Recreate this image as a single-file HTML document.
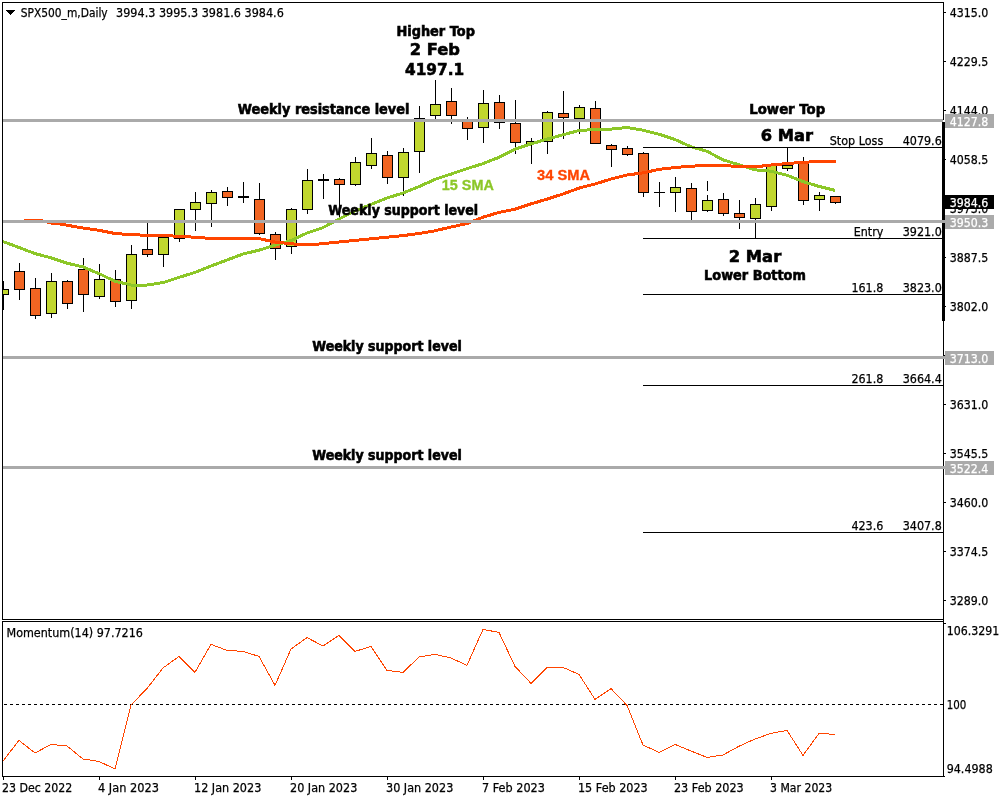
<!DOCTYPE html>
<html lang="en"><head><meta charset="utf-8"><title>SPX500_m Daily chart</title>
<style>html,body{margin:0;padding:0;background:#fff;overflow:hidden}svg{display:block}.t{font-family:"DejaVu Sans","Liberation Sans",sans-serif;font-size:12px;fill:#000;stroke:#000;stroke-width:.25px}.k{font-family:"DejaVu Sans","Liberation Sans",sans-serif;font-weight:bold;fill:#000;stroke:#000;stroke-width:.6px}.s{font-family:"Liberation Sans",sans-serif;font-weight:bold;font-size:13.8px;stroke-width:.3px}</style></head><body>
<svg width="1000" height="800" viewBox="0 0 1000 800">
<rect width="1000" height="800" fill="#fff"/>
<defs><clipPath id="cm"><rect x="3" y="3" width="940" height="616"/></clipPath></defs>
<g shape-rendering="crispEdges" clip-path="url(#cm)">
<rect x="3" y="281" width="1" height="29" fill="#000"/>
<rect x="-2" y="289" width="11" height="6" fill="#000"/>
<rect x="-1" y="290" width="9" height="4" fill="#C1D72E"/>
<rect x="19" y="263" width="1" height="37" fill="#000"/>
<rect x="14" y="271" width="11" height="19" fill="#000"/>
<rect x="15" y="272" width="9" height="17" fill="#F16522"/>
<rect x="35" y="278" width="1" height="41" fill="#000"/>
<rect x="30" y="288" width="11" height="28" fill="#000"/>
<rect x="31" y="289" width="9" height="26" fill="#F16522"/>
<rect x="51" y="273" width="1" height="45" fill="#000"/>
<rect x="46" y="281" width="11" height="33" fill="#000"/>
<rect x="47" y="282" width="9" height="31" fill="#C1D72E"/>
<rect x="67" y="280" width="1" height="29" fill="#000"/>
<rect x="62" y="281" width="11" height="23" fill="#000"/>
<rect x="63" y="282" width="9" height="21" fill="#F16522"/>
<rect x="83" y="258" width="1" height="54" fill="#000"/>
<rect x="78" y="269" width="11" height="26" fill="#000"/>
<rect x="79" y="270" width="9" height="24" fill="#F16522"/>
<rect x="99" y="264" width="1" height="35" fill="#000"/>
<rect x="94" y="279" width="11" height="18" fill="#000"/>
<rect x="95" y="280" width="9" height="16" fill="#C1D72E"/>
<rect x="115" y="270" width="1" height="37" fill="#000"/>
<rect x="110" y="279" width="11" height="23" fill="#000"/>
<rect x="111" y="280" width="9" height="21" fill="#F16522"/>
<rect x="131" y="245" width="1" height="64" fill="#000"/>
<rect x="126" y="254" width="11" height="47" fill="#000"/>
<rect x="127" y="255" width="9" height="45" fill="#C1D72E"/>
<rect x="147" y="223" width="1" height="34" fill="#000"/>
<rect x="142" y="249" width="11" height="6" fill="#000"/>
<rect x="143" y="250" width="9" height="4" fill="#F16522"/>
<rect x="163" y="237" width="1" height="30" fill="#000"/>
<rect x="158" y="237" width="11" height="18" fill="#000"/>
<rect x="159" y="238" width="9" height="16" fill="#C1D72E"/>
<rect x="179" y="209" width="1" height="33" fill="#000"/>
<rect x="174" y="209" width="11" height="30" fill="#000"/>
<rect x="175" y="210" width="9" height="28" fill="#C1D72E"/>
<rect x="195" y="192" width="1" height="39" fill="#000"/>
<rect x="190" y="202" width="11" height="8" fill="#000"/>
<rect x="191" y="203" width="9" height="6" fill="#C1D72E"/>
<rect x="211" y="190" width="1" height="37" fill="#000"/>
<rect x="206" y="192" width="11" height="12" fill="#000"/>
<rect x="207" y="193" width="9" height="10" fill="#C1D72E"/>
<rect x="227" y="187" width="1" height="19" fill="#000"/>
<rect x="222" y="191" width="11" height="7" fill="#000"/>
<rect x="223" y="192" width="9" height="5" fill="#F16522"/>
<rect x="243" y="182" width="1" height="21" fill="#000"/>
<rect x="238" y="196" width="11" height="2" fill="#000"/>
<rect x="259" y="183" width="1" height="52" fill="#000"/>
<rect x="254" y="199" width="11" height="35" fill="#000"/>
<rect x="255" y="200" width="9" height="33" fill="#F16522"/>
<rect x="275" y="232" width="1" height="28" fill="#000"/>
<rect x="270" y="234" width="11" height="15" fill="#000"/>
<rect x="271" y="235" width="9" height="13" fill="#F16522"/>
<rect x="291" y="208" width="1" height="46" fill="#000"/>
<rect x="286" y="209" width="11" height="38" fill="#000"/>
<rect x="287" y="210" width="9" height="36" fill="#C1D72E"/>
<rect x="307" y="169" width="1" height="45" fill="#000"/>
<rect x="302" y="180" width="11" height="30" fill="#000"/>
<rect x="303" y="181" width="9" height="28" fill="#C1D72E"/>
<rect x="323" y="174" width="1" height="25" fill="#000"/>
<rect x="318" y="179" width="11" height="2" fill="#000"/>
<rect x="339" y="178" width="1" height="41" fill="#000"/>
<rect x="334" y="179" width="11" height="6" fill="#000"/>
<rect x="335" y="180" width="9" height="4" fill="#F16522"/>
<rect x="355" y="157" width="1" height="29" fill="#000"/>
<rect x="350" y="162" width="11" height="23" fill="#000"/>
<rect x="351" y="163" width="9" height="21" fill="#C1D72E"/>
<rect x="371" y="138" width="1" height="31" fill="#000"/>
<rect x="366" y="153" width="11" height="13" fill="#000"/>
<rect x="367" y="154" width="9" height="11" fill="#C1D72E"/>
<rect x="387" y="151" width="1" height="33" fill="#000"/>
<rect x="382" y="155" width="11" height="23" fill="#000"/>
<rect x="383" y="156" width="9" height="21" fill="#F16522"/>
<rect x="403" y="148" width="1" height="48" fill="#000"/>
<rect x="398" y="152" width="11" height="26" fill="#000"/>
<rect x="399" y="153" width="9" height="24" fill="#C1D72E"/>
<rect x="419" y="106" width="1" height="67" fill="#000"/>
<rect x="414" y="118" width="11" height="34" fill="#000"/>
<rect x="415" y="119" width="9" height="32" fill="#C1D72E"/>
<rect x="435" y="80" width="1" height="39" fill="#000"/>
<rect x="430" y="104" width="11" height="12" fill="#000"/>
<rect x="431" y="105" width="9" height="10" fill="#C1D72E"/>
<rect x="451" y="88" width="1" height="36" fill="#000"/>
<rect x="446" y="101" width="11" height="15" fill="#000"/>
<rect x="447" y="102" width="9" height="13" fill="#F16522"/>
<rect x="467" y="117" width="1" height="23" fill="#000"/>
<rect x="462" y="120" width="11" height="9" fill="#000"/>
<rect x="463" y="121" width="9" height="7" fill="#F16522"/>
<rect x="483" y="90" width="1" height="53" fill="#000"/>
<rect x="478" y="103" width="11" height="25" fill="#000"/>
<rect x="479" y="104" width="9" height="23" fill="#C1D72E"/>
<rect x="499" y="95" width="1" height="34" fill="#000"/>
<rect x="494" y="102" width="11" height="21" fill="#000"/>
<rect x="495" y="103" width="9" height="19" fill="#F16522"/>
<rect x="515" y="100" width="1" height="54" fill="#000"/>
<rect x="510" y="123" width="11" height="20" fill="#000"/>
<rect x="511" y="124" width="9" height="18" fill="#F16522"/>
<rect x="531" y="138" width="1" height="26" fill="#000"/>
<rect x="526" y="141" width="11" height="3" fill="#000"/>
<rect x="527" y="142" width="9" height="1" fill="#C1D72E"/>
<rect x="547" y="111" width="1" height="43" fill="#000"/>
<rect x="542" y="112" width="11" height="30" fill="#000"/>
<rect x="543" y="113" width="9" height="28" fill="#C1D72E"/>
<rect x="563" y="91" width="1" height="48" fill="#000"/>
<rect x="558" y="113" width="11" height="5" fill="#000"/>
<rect x="559" y="114" width="9" height="3" fill="#F16522"/>
<rect x="579" y="105" width="1" height="29" fill="#000"/>
<rect x="574" y="107" width="11" height="12" fill="#000"/>
<rect x="575" y="108" width="9" height="10" fill="#C1D72E"/>
<rect x="595" y="101" width="1" height="43" fill="#000"/>
<rect x="590" y="108" width="11" height="36" fill="#000"/>
<rect x="591" y="109" width="9" height="34" fill="#F16522"/>
<rect x="611" y="144" width="1" height="23" fill="#000"/>
<rect x="606" y="145" width="11" height="5" fill="#000"/>
<rect x="607" y="146" width="9" height="3" fill="#F16522"/>
<rect x="627" y="146" width="1" height="10" fill="#000"/>
<rect x="622" y="148" width="11" height="7" fill="#000"/>
<rect x="623" y="149" width="9" height="5" fill="#F16522"/>
<rect x="643" y="152" width="1" height="45" fill="#000"/>
<rect x="638" y="153" width="11" height="40" fill="#000"/>
<rect x="639" y="154" width="9" height="38" fill="#F16522"/>
<rect x="659" y="182" width="1" height="25" fill="#000"/>
<rect x="654" y="192" width="11" height="1" fill="#000"/>
<rect x="675" y="177" width="1" height="35" fill="#000"/>
<rect x="670" y="187" width="11" height="6" fill="#000"/>
<rect x="671" y="188" width="9" height="4" fill="#C1D72E"/>
<rect x="691" y="183" width="1" height="37" fill="#000"/>
<rect x="686" y="188" width="11" height="24" fill="#000"/>
<rect x="687" y="189" width="9" height="22" fill="#F16522"/>
<rect x="707" y="195" width="1" height="17" fill="#000"/>
<rect x="707" y="181" width="1" height="10" fill="#000"/>
<rect x="702" y="200" width="11" height="11" fill="#000"/>
<rect x="703" y="201" width="9" height="9" fill="#C1D72E"/>
<rect x="723" y="193" width="1" height="23" fill="#000"/>
<rect x="718" y="199" width="11" height="15" fill="#000"/>
<rect x="719" y="200" width="9" height="13" fill="#F16522"/>
<rect x="739" y="200" width="1" height="29" fill="#000"/>
<rect x="734" y="213" width="11" height="5" fill="#000"/>
<rect x="735" y="214" width="9" height="3" fill="#F16522"/>
<rect x="755" y="198" width="1" height="40" fill="#000"/>
<rect x="750" y="204" width="11" height="15" fill="#000"/>
<rect x="751" y="205" width="9" height="13" fill="#C1D72E"/>
<rect x="771" y="165" width="1" height="46" fill="#000"/>
<rect x="766" y="165" width="11" height="42" fill="#000"/>
<rect x="767" y="166" width="9" height="40" fill="#C1D72E"/>
<rect x="787" y="148" width="1" height="23" fill="#000"/>
<rect x="782" y="165" width="11" height="4" fill="#000"/>
<rect x="783" y="166" width="9" height="2" fill="#C1D72E"/>
<rect x="803" y="157" width="1" height="48" fill="#000"/>
<rect x="798" y="163" width="11" height="38" fill="#000"/>
<rect x="799" y="164" width="9" height="36" fill="#F16522"/>
<rect x="819" y="192" width="1" height="19" fill="#000"/>
<rect x="814" y="195" width="11" height="5" fill="#000"/>
<rect x="815" y="196" width="9" height="3" fill="#C1D72E"/>
<rect x="835" y="196" width="1" height="8" fill="#000"/>
<rect x="830" y="196" width="11" height="7" fill="#000"/>
<rect x="831" y="197" width="9" height="5" fill="#F16522"/>
</g>
<g fill="none" stroke-width="3" stroke-linejoin="round" shape-rendering="crispEdges" clip-path="url(#cm)">
<polyline points="-13,236 3,241.6 19,247.5 35,253.6 51,257.8 67,263.2 83,266.9 99,273.6 115,281.3 131,285 147,285 163,282.6 179,277.4 195,272.4 211,266 227,260 243,254 259,250.2 275,245.2 291,240.6 307,233 323,227.6 339,219 355,211 371,204.4 387,198 403,193 419,186.6 435,179.4 451,174.1 467,168.6 483,163.7 499,157.3 515,149.2 531,143.9 547,139.1 563,134.8 579,130.5 595,129.5 611,129.1 627,127.5 643,130.2 659,134.2 675,139.5 691,146.8 707,151.3 723,159.8 739,164.8 755,169.8 771,171.2 787,175.2 803,181.6 819,186.4 835,190.4" stroke="#8CC728"/>
<polyline points="-13,221.5 3,221.5 22,221.5 27,220.5 40,220.5 46,221.7 51,223 59,223.7 67,225.2 83,228 99,230.3 115,233.5 131,234.6 147,235.3 163,235.7 179,236.2 195,237.3 211,238.4 227,238.6 243,238.5 259,238.6 275,242 291,243.8 307,244.9 316,244.3 323,243.6 339,242 355,240.4 371,238.8 387,237.2 403,235.6 419,233.5 435,230.8 451,227 467,223.6 483,217.2 499,212.4 515,209.2 531,203.9 547,199.1 563,194 579,188.1 595,184 611,179 627,175 643,172.9 659,169.4 675,167.5 691,166.2 707,165.4 723,165.6 739,166.4 755,166.9 771,165.0 787,163.5 803,162.4 819,161.4 836,161.5" stroke="#FF4500"/>
</g>
<g shape-rendering="crispEdges">
<rect x="643" y="147" width="300" height="1" fill="#000"/>
<rect x="643" y="238" width="300" height="1" fill="#000"/>
<rect x="643" y="294" width="300" height="1" fill="#000"/>
<rect x="643" y="385" width="300" height="1" fill="#000"/>
<rect x="643" y="532" width="300" height="1" fill="#000"/>
<rect x="2" y="2" width="942" height="1" fill="#000"/>
<rect x="2" y="2" width="1" height="618" fill="#000"/>
<rect x="2" y="619" width="942" height="1" fill="#000"/>
<rect x="943" y="2" width="1" height="775" fill="#000"/>
<rect x="2" y="621" width="942" height="1" fill="#000"/>
<rect x="2" y="621" width="1" height="156" fill="#000"/>
<rect x="2" y="776" width="942" height="1" fill="#000"/>
<rect x="944" y="12" width="2" height="1" fill="#000"/>
<rect x="944" y="61" width="2" height="1" fill="#000"/>
<rect x="944" y="110" width="2" height="1" fill="#000"/>
<rect x="944" y="159" width="2" height="1" fill="#000"/>
<rect x="944" y="208" width="2" height="1" fill="#000"/>
<rect x="944" y="257" width="2" height="1" fill="#000"/>
<rect x="944" y="306" width="2" height="1" fill="#000"/>
<rect x="944" y="355" width="2" height="1" fill="#000"/>
<rect x="944" y="404" width="2" height="1" fill="#000"/>
<rect x="944" y="453" width="2" height="1" fill="#000"/>
<rect x="944" y="502" width="2" height="1" fill="#000"/>
<rect x="944" y="551" width="2" height="1" fill="#000"/>
<rect x="944" y="600" width="2" height="1" fill="#000"/>
<rect x="944" y="623" width="2" height="1" fill="#000"/>
<rect x="944" y="776" width="1" height="1" fill="#000"/>
<rect x="3" y="777" width="1" height="3" fill="#000"/>
<rect x="99" y="777" width="1" height="3" fill="#000"/>
<rect x="195" y="777" width="1" height="3" fill="#000"/>
<rect x="291" y="777" width="1" height="3" fill="#000"/>
<rect x="387" y="777" width="1" height="3" fill="#000"/>
<rect x="483" y="777" width="1" height="3" fill="#000"/>
<rect x="579" y="777" width="1" height="3" fill="#000"/>
<rect x="675" y="777" width="1" height="3" fill="#000"/>
<rect x="771" y="777" width="1" height="3" fill="#000"/>
<path d="M4 704.5H943" stroke="#000" stroke-width="1" stroke-dasharray="3 3" fill="none"/>
<rect x="942" y="122" width="3" height="199" fill="#000"/>
<rect x="3" y="119" width="940" height="3" fill="#AAAAAA"/>
<rect x="3" y="220" width="942" height="3" fill="#AAAAAA"/>
<rect x="3" y="356" width="942" height="3" fill="#AAAAAA"/>
<rect x="3" y="466" width="942" height="3" fill="#AAAAAA"/>
<rect x="943" y="120" width="2" height="2" fill="#fff"/>
<path d="M6 10h9v1h-1v1h-1v1h-1v1h-1v1h-1v-1h-1v-1h-1v-1h-1v-1h-1z" fill="#000"/>
</g>
<polyline points="3,761 19,740.4 35,753 51,744.4 67,746 83,759 99,761.4 115,769 131,705 147,688.5 163,668 179,656.4 195,672.4 211,644.4 227,650.4 243,651.4 259,656.4 275,685.4 291,649 307,637.6 323,646 339,635.4 355,651.4 371,646.4 387,670.4 403,672.4 419,657 435,654.4 451,658 467,665.4 483,629.4 499,632.4 515,666.4 531,683.4 547,667.4 563,667.4 579,674.4 595,699.4 611,688.6 627,705.4 643,745 659,752.4 675,744.4 691,751 707,757.4 723,755 739,746.2 755,739 771,733.4 787,730.4 803,755.4 819,733.4 835,734.4" fill="none" stroke="#FF4500" stroke-width="1" shape-rendering="crispEdges"/>
<text class="t" x="949.7" y="17" textLength="38.6" lengthAdjust="spacingAndGlyphs">4315.0</text>
<text class="t" x="949.7" y="66" textLength="38.6" lengthAdjust="spacingAndGlyphs">4229.5</text>
<text class="t" x="949.7" y="115" textLength="38.6" lengthAdjust="spacingAndGlyphs">4144.0</text>
<text class="t" x="949.7" y="164" textLength="38.6" lengthAdjust="spacingAndGlyphs">4058.5</text>
<text class="t" x="949.7" y="213" textLength="38.6" lengthAdjust="spacingAndGlyphs">3973.0</text>
<text class="t" x="949.7" y="262" textLength="38.6" lengthAdjust="spacingAndGlyphs">3887.5</text>
<text class="t" x="949.7" y="311" textLength="38.6" lengthAdjust="spacingAndGlyphs">3802.0</text>
<text class="t" x="949.7" y="360" textLength="38.6" lengthAdjust="spacingAndGlyphs">3716.5</text>
<text class="t" x="949.7" y="409" textLength="38.6" lengthAdjust="spacingAndGlyphs">3631.0</text>
<text class="t" x="949.7" y="458" textLength="38.6" lengthAdjust="spacingAndGlyphs">3545.5</text>
<text class="t" x="949.7" y="507" textLength="38.6" lengthAdjust="spacingAndGlyphs">3460.0</text>
<text class="t" x="949.7" y="556" textLength="38.6" lengthAdjust="spacingAndGlyphs">3374.5</text>
<text class="t" x="949.7" y="605" textLength="38.6" lengthAdjust="spacingAndGlyphs">3289.0</text>
<text class="t" x="946.7" y="635" textLength="52.6" lengthAdjust="spacingAndGlyphs">106.3291</text>
<text class="t" x="946.7" y="709" textLength="19.6" lengthAdjust="spacingAndGlyphs">100</text>
<text class="t" x="946.7" y="773" textLength="46.1" lengthAdjust="spacingAndGlyphs">94.4988</text>
<g shape-rendering="crispEdges">
<rect x="945" y="114" width="49" height="14" fill="#AAAAAA"/>
<rect x="945" y="215" width="49" height="14" fill="#AAAAAA"/>
<rect x="945" y="351" width="49" height="14" fill="#AAAAAA"/>
<rect x="945" y="461" width="49" height="14" fill="#AAAAAA"/>
<rect x="944" y="195" width="50" height="14" fill="#000"/>
</g>
<text class="t" x="949.7" y="125.5" textLength="38.6" lengthAdjust="spacingAndGlyphs" style="fill:#fff;stroke:#fff">4127.8</text>
<text class="t" x="949.7" y="226.5" textLength="38.6" lengthAdjust="spacingAndGlyphs" style="fill:#fff;stroke:#fff">3950.3</text>
<text class="t" x="949.7" y="362.5" textLength="38.6" lengthAdjust="spacingAndGlyphs" style="fill:#fff;stroke:#fff">3713.0</text>
<text class="t" x="949.7" y="472.5" textLength="38.6" lengthAdjust="spacingAndGlyphs" style="fill:#fff;stroke:#fff">3522.4</text>
<text class="t" x="949.7" y="206.5" textLength="38.6" lengthAdjust="spacingAndGlyphs" style="fill:#fff;stroke:#fff">3984.6</text>
<text class="t" x="20.7" y="17" textLength="87.0" lengthAdjust="spacingAndGlyphs">SPX500_m,Daily</text>
<text class="t" x="116.1" y="17" textLength="167.7" lengthAdjust="spacingAndGlyphs">3994.3 3995.3 3981.6 3984.6</text>
<text class="t" x="6.5" y="637" textLength="136.4" lengthAdjust="spacingAndGlyphs">Momentum(14) 97.7216</text>
<text class="t" x="2.0" y="792" textLength="70.3" lengthAdjust="spacingAndGlyphs">23 Dec 2022</text>
<text class="t" x="98.0" y="792" textLength="61.0" lengthAdjust="spacingAndGlyphs">4 Jan 2023</text>
<text class="t" x="194.0" y="792" textLength="67.3" lengthAdjust="spacingAndGlyphs">12 Jan 2023</text>
<text class="t" x="290.0" y="792" textLength="67.3" lengthAdjust="spacingAndGlyphs">20 Jan 2023</text>
<text class="t" x="386.0" y="792" textLength="67.3" lengthAdjust="spacingAndGlyphs">30 Jan 2023</text>
<text class="t" x="482.0" y="792" textLength="62.9" lengthAdjust="spacingAndGlyphs">7 Feb 2023</text>
<text class="t" x="578.0" y="792" textLength="69.7" lengthAdjust="spacingAndGlyphs">15 Feb 2023</text>
<text class="t" x="674.0" y="792" textLength="69.7" lengthAdjust="spacingAndGlyphs">23 Feb 2023</text>
<text class="t" x="770.0" y="792" textLength="62.2" lengthAdjust="spacingAndGlyphs">3 Mar 2023</text>
<text class="t" x="829.7" y="144.5" textLength="53.6" lengthAdjust="spacingAndGlyphs">Stop Loss</text>
<text class="t" x="902.7" y="144.5" textLength="39.1" lengthAdjust="spacingAndGlyphs">4079.6</text>
<text class="t" x="853.7" y="235.5" textLength="29.6" lengthAdjust="spacingAndGlyphs">Entry</text>
<text class="t" x="902.7" y="235.5" textLength="39.1" lengthAdjust="spacingAndGlyphs">3921.0</text>
<text class="t" x="851.4" y="291.5" textLength="31.9" lengthAdjust="spacingAndGlyphs">161.8</text>
<text class="t" x="902.7" y="291.5" textLength="39.1" lengthAdjust="spacingAndGlyphs">3823.0</text>
<text class="t" x="851.4" y="382.5" textLength="31.9" lengthAdjust="spacingAndGlyphs">261.8</text>
<text class="t" x="902.7" y="382.5" textLength="39.1" lengthAdjust="spacingAndGlyphs">3664.4</text>
<text class="t" x="851.4" y="529.5" textLength="31.9" lengthAdjust="spacingAndGlyphs">423.6</text>
<text class="t" x="902.7" y="529.5" textLength="39.1" lengthAdjust="spacingAndGlyphs">3407.8</text>
<text class="k" x="396.4" y="35.6" font-size="13.7" textLength="78.6" lengthAdjust="spacingAndGlyphs">Higher Top</text>
<text class="k" x="409.8" y="54.6" font-size="16.4" textLength="50.2" lengthAdjust="spacingAndGlyphs">2 Feb</text>
<text class="k" x="405.0" y="74.6" font-size="16.4" textLength="59.2" lengthAdjust="spacingAndGlyphs">4197.1</text>
<text class="k" x="237.8" y="114" font-size="13.7" textLength="171.6" lengthAdjust="spacingAndGlyphs">Weekly resistance level</text>
<text class="k" x="328.3" y="214.5" font-size="13.7" textLength="149.9" lengthAdjust="spacingAndGlyphs">Weekly support level</text>
<text class="k" x="312.2" y="350.6" font-size="13.7" textLength="149.6" lengthAdjust="spacingAndGlyphs">Weekly support level</text>
<text class="k" x="312.2" y="460" font-size="13.7" textLength="149.6" lengthAdjust="spacingAndGlyphs">Weekly support level</text>
<text class="k" x="749.3" y="113.9" font-size="13.7" textLength="75.9" lengthAdjust="spacingAndGlyphs">Lower Top</text>
<text class="k" x="760.8" y="140.8" font-size="16.4" textLength="52.3" lengthAdjust="spacingAndGlyphs">6 Mar</text>
<text class="k" x="728.8" y="261.6" font-size="16.4" textLength="52.4" lengthAdjust="spacingAndGlyphs">2 Mar</text>
<text class="k" x="704.1" y="279.8" font-size="13.7" textLength="101.8" lengthAdjust="spacingAndGlyphs">Lower Bottom</text>
<text class="s" x="441.8" y="189.6" textLength="52" lengthAdjust="spacingAndGlyphs" fill="#8CC728" stroke="#8CC728">15 SMA</text>
<text class="s" x="537" y="179.7" textLength="53" lengthAdjust="spacingAndGlyphs" fill="#FF4500" stroke="#FF4500">34 SMA</text>
</svg></body></html>
